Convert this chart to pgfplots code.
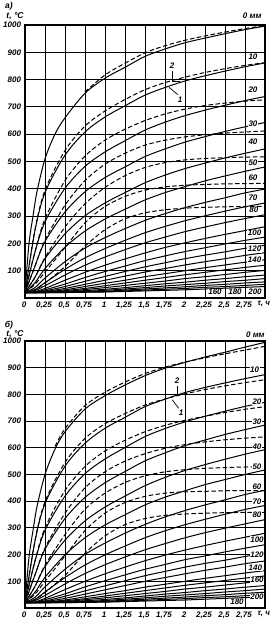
\documentclass[border=0pt]{standalone}
\usepackage{fontspec}
\setmainfont{Liberation Sans}
\usepackage{pgfplots}
\usepackage{pgfplotstable}
\pgfplotsset{compat=1.18}

% top panel, solid curves (depth in mm)
\pgfplotstableread{
t d10 d20 d30 d40 d50 d60 d70 d80 d90 d100 d110 d120 d130 d140 d150 d160 d170 d180 d190 d200
0 20 20 20 20 20 20 20 20 20 20 20 20 20 20 20 20 20 20 20 20
0.125 248 168 117 76 56 38 31 27 23 22 21 21 20 20 20 20 20 20 20 20
0.25 386 279 207 144 108 73 56 45 35 30 26 24 22 21 21 20 20 20 20 20
0.5 523 402 315 235 186 133 105 84 65 51 42 35 30 27 24 23 22 21 20 20
0.75 608 482 389 301 245 183 147 120 94 75 61 50 42 35 31 27 24 23 22 21
1 663 535 441 348 289 221 181 150 120 97 79 65 54 45 38 32 28 25 23 22
1.25 704 576 480 386 325 254 211 177 143 117 97 80 65 55 46 38 33 29 26 24
1.5 743 615 518 422 359 284 239 202 165 137 114 95 78 65 54 45 38 33 29 26
1.75 771 644 546 450 386 309 262 223 185 154 129 108 89 75 62 52 44 37 32 28
2 795 668 571 474 408 331 283 243 202 170 144 121 100 85 71 58 49 41 35 30
2.25 814 688 591 494 429 350 301 260 218 184 157 133 111 94 78 65 54 46 39 33
2.5 831 706 610 513 447 367 318 276 233 198 169 144 121 103 86 71 60 50 42 36
2.75 847 723 627 530 464 385 334 291 247 211 182 156 131 112 94 78 65 55 46 39
3 861 738 643 546 480 399 348 305 261 223 193 166 140 120 101 84 71 59 50 42
}\topsolid

% top panel, dashed curves
\pgfplotstableread{
t e10 e20 e30 e40 e50 e60
0 20 20 20 20 20 20
0.125 250 170 117 76 50 30
0.25 395 290 212 148 95 55
0.5 540 430 340 260 185 115
0.75 630 520 430 345 275 190
1 685 578 490 405 335 250
1.25 727 618 530 448 372 290
1.5 763 650 560 478 395 312
1.75 789 674 578 496 407 323
2 809 692 590 506 413 329
2.25 826 705 598 511 416 332
2.5 840 714 604 514 418 334
2.75 852 721 608 516 419 335
3 862 726 612 517 420 336
}\topdashed

% bottom panel, solid curves
\pgfplotstableread{
t d10 d20 d30 d40 d50 d60 d70 d80 d90 d100 d110 d120 d130 d140 d150 d160 d170 d180 d190 d200
0 20 20 20 20 20 20 20 20 20 20 20 20 20 20 20 20 20 20 20 20
0.125 251 175 124 81 59 40 32 28 23 22 21 21 20 20 20 20 20 20 20 20
0.25 391 291 220 155 115 79 60 47 36 31 26 24 22 21 21 20 20 20 20 20
0.5 531 419 335 254 199 145 114 90 69 53 44 36 30 27 24 23 22 21 20 20
0.75 617 503 414 326 263 201 161 129 100 79 64 52 42 35 31 27 24 23 22 21
1 673 558 469 378 311 243 199 162 128 102 83 68 54 45 38 32 28 25 23 22
1.25 714 601 511 419 349 280 232 191 153 124 102 84 65 55 46 38 33 29 26 24
1.5 754 642 551 458 386 313 263 218 177 145 121 100 78 65 54 45 38 33 29 26
1.75 782 672 581 489 415 341 289 241 198 163 137 114 89 75 62 52 44 37 32 28
2 807 697 608 515 439 365 312 263 217 181 153 128 100 85 71 58 49 41 35 30
2.25 826 718 629 537 462 386 332 282 234 195 167 141 111 94 78 65 54 46 39 33
2.5 843 737 650 557 481 405 351 299 250 210 179 153 121 103 86 71 60 50 42 36
2.75 859 755 668 576 500 425 369 315 265 224 193 166 131 112 94 78 65 55 46 39
3 874 770 685 593 517 441 384 331 280 237 205 176 140 120 101 84 71 59 50 42
}\botsolid

% bottom panel, dashed curves
\pgfplotstableread{
t e10 e20 e30 e40 e50 e60
0 20 20 20 20 20 20
0.125 253 177 124 81 52 32
0.25 398 300 225 160 100 58
0.5 545 440 355 275 195 122
0.75 635 530 450 370 290 205
1 690 588 510 430 355 270
1.25 728 628 550 470 395 312
1.5 760 660 578 495 418 335
1.75 783 684 598 510 430 347
2 802 703 612 518 435 352
2.25 818 718 622 523 437 355
2.5 832 732 630 526 439 357
2.75 844 744 636 528 440 358
3 855 754 641 529 440 358
}\botdashed

\tikzset{
  crv/.style={black, solid, line width=1pt, smooth},
  dsh/.style={black, line width=1pt, smooth, dash pattern=on 4.5pt off 2.5pt},
  lbl/.style={font=\fontsize{8}{9}\selectfont\bfseries\itshape, fill=white, inner sep=0.6pt},
  num/.style={font=\fontsize{8}{9}\selectfont\bfseries\itshape, inner sep=0.5pt},
  ttl/.style={font=\fontsize{8.5}{9}\selectfont\bfseries\itshape},
}
\pgfplotsset{
  panel/.style={
    scale only axis, width=240pt,
    xmin=0, xmax=3, ymin=0, ymax=1000,
    clip=false,
    xtick={0,0.25,0.5,0.75,1,1.25,1.5,1.75,2,2.25,2.5,2.75,3},
    xticklabels={0,{0,25},{0,5},{0,75},1,{1,25},{1,5},{1,75},2,{2,25},{2,5},{2,75},{}},
    ytick={100,200,300,400,500,600,700,800,900,1000},
    yticklabels={100,200,300,400,500,600,700,800,900,1000},
    major tick length=0pt,
    grid=major,
    major grid style={black, line width=0.9pt},
    axis line style={black, line width=1.1pt},
    tick label style={font=\fontsize{8}{9}\selectfont\bfseries\itshape, black},
    xticklabel style={yshift=-0.5pt, xshift=-1pt},
    yticklabel style={xshift=-0.5pt},
  },
}

\begin{document}
\begin{tikzpicture}
\useasboundingbox (0pt,0pt) rectangle (272pt,624pt);
% ---------- panel a ----------
\begin{axis}[panel, height=273pt, at={(25pt,599pt)}, anchor=north west]
\addplot[crv] coordinates {(0,20) (0.05,200) (0.1,300) (0.15,390) (0.25,510) (0.375,600) (0.5,660) (0.75,750) (1,805) (1.25,845) (1.5,885) (1.75,912) (2,935) (2.25,952) (2.5,968) (2.75,983) (3,996)};
\addplot[dsh] coordinates {(0.75,755) (1,817) (1.25,860) (1.5,898) (1.75,924) (2,944) (2.25,960) (2.5,974) (2.75,987) (3,998)};
\pgfplotsinvokeforeach{d10,d20,d30,d40,d50,d60,d70,d80,d90,d100,d110,d120,d130,d140,d150,d160,d170,d180,d190,d200}{
  \addplot[crv] table[x=t, y=#1] {\topsolid};
}
\pgfplotsinvokeforeach{e10,e20,e30,e40,e50,e60}{
  \addplot[dsh] table[x=t, y=#1] {\topdashed};
}
\node[lbl] at (axis cs:2.84,1035) {0 мм};
\node[lbl] at (axis cs:2.85,882) {10};
\node[lbl] at (axis cs:2.85,761) {20};
\node[lbl] at (axis cs:2.85,640) {30};
\node[lbl] at (axis cs:2.85,574) {40};
\node[lbl] at (axis cs:2.85,494) {50};
\node[lbl] at (axis cs:2.85,439) {60};
\node[lbl] at (axis cs:2.85,366) {70};
\node[lbl] at (axis cs:2.86,322) {80};
\node[lbl] at (axis cs:2.87,238) {100};
\node[lbl] at (axis cs:2.87,179) {120};
\node[lbl] at (axis cs:2.87,139) {140};
\node[lbl] at (axis cs:2.375,22) {160};
\node[lbl] at (axis cs:2.625,22) {180};
\node[lbl] at (axis cs:2.875,22) {200};
\node[num] at (axis cs:1.84,850) {2};
\draw[line width=0.7pt] (axis cs:1.84,830) -- (axis cs:1.84,792) -- (axis cs:1.94,792);
\node[num] at (axis cs:1.94,728) {1};
\draw[line width=0.7pt] (axis cs:1.91,745) -- (axis cs:1.8,772);
\node[num, anchor=north west] at (axis cs:2.9,-10) {τ, ч};
\end{axis}
\node[ttl] at (9pt,618pt) {а)};
\node[ttl] at (15pt,608pt) {t, °C};
% ---------- panel b ----------
\begin{axis}[panel, height=267pt, at={(25pt,283pt)}, anchor=north west]
\addplot[crv] coordinates {(0,20) (0.05,190) (0.1,290) (0.15,380) (0.25,500) (0.375,595) (0.5,660) (0.75,745) (1,795) (1.25,835) (1.5,870) (1.75,898) (2,920) (2.25,940) (2.5,958) (2.75,977) (3,995)};
\addplot[dsh] coordinates {(0.375,605) (0.5,672) (0.75,758) (1,808) (1.25,846) (1.5,878) (1.75,902) (2,921) (2.25,937) (2.5,952) (2.75,966) (3,980)};
\pgfplotsinvokeforeach{d10,d20,d30,d40,d50,d60,d70,d80,d90,d100,d110,d120,d130,d140,d150,d160,d170,d180,d190,d200}{
  \addplot[crv] table[x=t, y=#1] {\botsolid};
}
\pgfplotsinvokeforeach{e10,e20,e30,e40,e50,e60}{
  \addplot[dsh] table[x=t, y=#1] {\botdashed};
}
\node[lbl] at (axis cs:2.88,1024) {0 мм};
\node[lbl] at (axis cs:2.87,892) {10};
\node[lbl] at (axis cs:2.9,772) {20};
\node[lbl] at (axis cs:2.9,697) {30};
\node[lbl] at (axis cs:2.9,604) {40};
\node[lbl] at (axis cs:2.9,529) {50};
\node[lbl] at (axis cs:2.9,454) {60};
\node[lbl] at (axis cs:2.9,397) {70};
\node[lbl] at (axis cs:2.9,349) {80};
\node[lbl] at (axis cs:2.9,255) {100};
\node[lbl] at (axis cs:2.9,199) {120};
\node[lbl] at (axis cs:2.88,150) {140};
\node[lbl] at (axis cs:2.9,105) {160};
\node[lbl] at (axis cs:2.9,41) {200};
\node[lbl] at (axis cs:2.65,22) {180};
\node[num] at (axis cs:1.9,852) {2};
\draw[line width=0.7pt] (axis cs:1.9,832) -- (axis cs:1.9,800) -- (axis cs:2.0,800);
\node[num] at (axis cs:1.95,730) {1};
\draw[line width=0.7pt] (axis cs:1.92,748) -- (axis cs:1.84,780);
\node[num, anchor=north west] at (axis cs:2.9,-10) {τ, ч};
\end{axis}
\node[ttl] at (9pt,299pt) {б)};
\node[ttl] at (15pt,290pt) {t, °C};
\end{tikzpicture}
\end{document}
